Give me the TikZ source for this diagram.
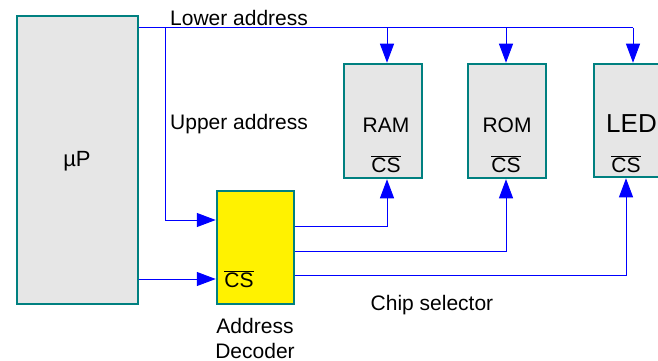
\documentclass[tikz,border=0pt]{standalone}
\usepackage{fontspec}
\setmainfont{Liberation Sans}
\usetikzlibrary{arrows.meta}
\definecolor{boxedge}{RGB}{0,128,128}
\definecolor{boxfill}{RGB}{230,230,230}
\definecolor{wire}{RGB}{0,0,255}
\newcommand\csbar{$\overline{\hbox{CS}}$}
\begin{document}
\begin{tikzpicture}[x=1pt,y=-1pt,
  font=\fontsize{21}{24}\selectfont,
  blk/.style={draw=boxedge,line width=2.5pt,fill=boxfill,inner sep=0pt},
  wireline/.style={draw=wire,line width=1pt},
  arr/.style={wireline,-{Triangle[length=19pt,width=14pt]}},
  lbl/.style={inner sep=0pt}]
\useasboundingbox (0,0) rectangle (658,361);
\clip (0,0) rectangle (658,361);
% blocks
\node[blk,minimum width=121pt,minimum height=288pt] (up) at (77.5,160) {};
\node[blk,fill=yellow,minimum width=77pt,minimum height=113pt] (dec) at (255.5,247.5) {};
\node[blk,minimum width=78pt,minimum height=114pt] (ram) at (383,121) {};
\node[blk,minimum width=78pt,minimum height=114pt] (rom) at (507,121) {};
\node[blk,minimum width=78pt,minimum height=113pt] (led) at (633,120.5) {};
% labels in blocks
\node[lbl,font=\fontsize{22}{26}\selectfont] (uplbl) at (77,161) {µP};
\node[lbl] (ramlbl) at (386,125) {RAM};
\node[lbl] (romlbl) at (507,125) {ROM};
\node[lbl,anchor=west,font=\fontsize{26}{30}\selectfont] (ledlbl) at (606,124) {LED};
\node[lbl] (ramcs) at (386,164) {\csbar};
\node[lbl] (romcs) at (506,164) {\csbar};
\node[lbl] (ledcs) at (626,164) {\csbar};
\node[lbl] (deccs) at (239,279) {\csbar};
% free labels
\node[lbl,anchor=west] (lower) at (170,18) {Lower address};
\node[lbl,anchor=west] (upper) at (170,124) {Upper address};
\node[lbl] (chip) at (432,305) {Chip selector};
\node[lbl,align=center,font=\fontsize{21}{25}\selectfont] (declbl) at (255,338) {Address\\Decoder};
% junction coordinates
\coordinate (b0) at (up.east |- 0,28);
\coordinate (j1) at (165,28);
\coordinate (j2) at (387,28);
\coordinate (j3) at (506,28);
\coordinate (j4) at (633,28);
% lower address bus
\draw[wireline] (b0) -- (j4);
\draw[arr] (j2) -- (j2 |- ram.north);
\draw[arr] (j3) -- (j3 |- rom.north);
\draw[arr] (j4) -- (j4 |- led.north);
% upper address
\draw[arr] (j1) |- (dec.west |- 0,220);
% uP to decoder CS
\draw[arr] (up.east |- 0,279) -- (dec.west |- 0,279);
% decoder outputs
\draw[arr] (dec.east |- 0,226) -| (387,0 |- ram.south);
\draw[arr] (dec.east |- 0,251) -| (506,0 |- rom.south);
\draw[arr] (dec.east |- 0,275) -| (626,0 |- led.south);
\end{tikzpicture}
\end{document}
